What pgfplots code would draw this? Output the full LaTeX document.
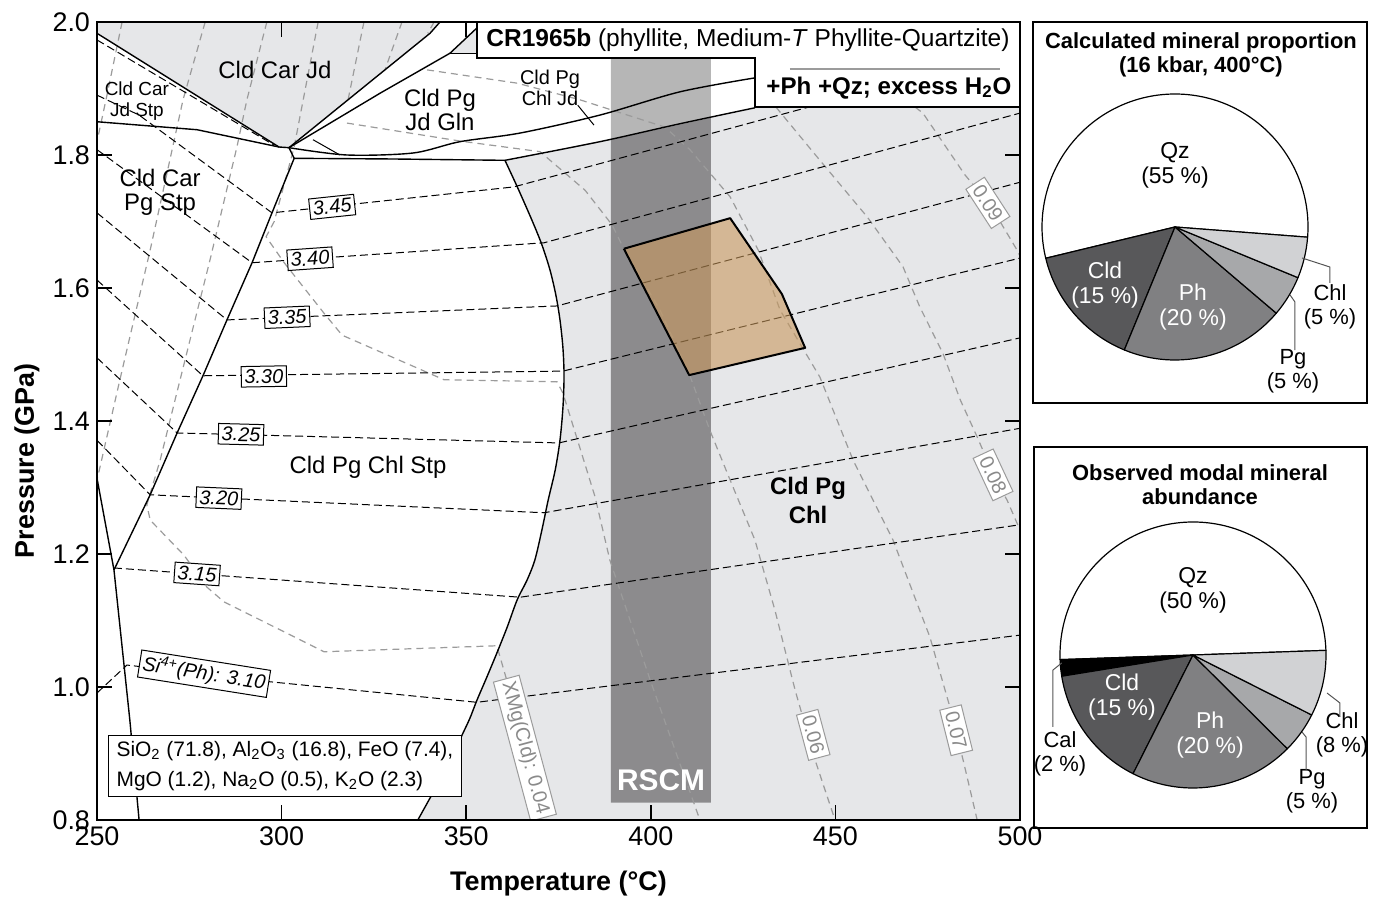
\documentclass[border=0pt]{standalone}
\usepackage{fontspec}
\setmainfont{Liberation Sans}
\usepackage{pgfplots}
\pgfplotsset{compat=1.18}
\definecolor{fieldgray}{HTML}{E6E7E9}
\definecolor{banddark}{HTML}{8C8B8D}
\definecolor{bandlight}{HTML}{B6B6B6}
\definecolor{tanfill}{RGB}{200,152,93}
\definecolor{isogray}{HTML}{9B9B9B}
\definecolor{isotext}{HTML}{8A8A8A}
\definecolor{cldc}{HTML}{58585A}
\definecolor{phc}{HTML}{808082}
\definecolor{pgc}{HTML}{A7A8AA}
\definecolor{chlc}{HTML}{D1D2D4}
\definecolor{leader}{HTML}{555555}
\newcommand\piedraw[2]{%
  \gdef\pcur{#1}%
  \foreach \v/\c in {#2}{%
    \pgfmathsetmacro\pnext{\pcur+3.6*\v}%
    \filldraw[fill=\c,draw=black,line width=0.6bp,line join=round] (axis cs:0,0) -- ++(\pcur:66.5bp) arc[start angle=\pcur,end angle=\pnext,radius=66.5bp] -- cycle;
    \global\let\pcur\pnext
  }%
}
\pgfplotsset{
  xmg/.style={isogray, line width=0.6bp, dash pattern=on 3.5bp off 2.5bp},
  si/.style={black, line width=0.5bp, dash pattern=on 4bp off 2bp},
  bd/.style={black, line width=0.7bp, line join=round},
}
\tikzset{
  silab/.style={draw=black, fill=white, line width=0.5bp, inner sep=1.6bp, font=\itshape\fontsize{10}{12}\selectfont},
  xlab/.style={draw=isogray, fill=white, text=isotext, line width=0.5bp, inner sep=2bp, font=\fontsize{10}{12}\selectfont},
}
\begin{document}
\begin{tikzpicture}
\useasboundingbox (-48.5bp,-38.5bp) rectangle (642bp,410bp);
\begin{axis}[
  name=main, at={(0,0)}, anchor=south west,
  scale only axis, width=461.5bp, height=399bp,
  xmin=250, xmax=500, ymin=0.8, ymax=2.0,
  xtick={250,300,350,400,450,500}, ytick={0.8,1.0,1.2,1.4,1.6,1.8,2.0},
  yticklabel style={/pgf/number format/.cd,fixed,fixed zerofill,precision=1},
  xtick pos=left, ytick pos=both, tick align=inside,
  major tick length=7.5bp,
  every tick/.style={black,line width=0.75bp},
  axis line style={line width=1bp},
  axis on top,
  /pgf/number format/assume math mode=true,
  tick label style={font=\fontsize{13.5}{16}\selectfont},
  label style={font=\fontsize{13.5}{16}\selectfont},
  xlabel={\textbf{Temperature (°C)}}, ylabel={\textbf{Pressure (GPa)}},
  xlabel style={at={(axis description cs:0.5,-0.08)},anchor=center},
  ylabel style={at={(axis description cs:-0.076,0.45)},anchor=center},
  no markers,
]
% ---- fields
\addplot[fill=fieldgray,draw=none] coordinates {(250,2.0)(250,1.983)(299.3,1.812)(302,1.811)(340.2,1.983)(342.9,2.0)};
\addplot[fill=fieldgray,draw=none] coordinates {(345.6,1.953)(352.9,1.991)(352.9,1.953)};
\addplot[fill=fieldgray,draw=none] coordinates {(360.5,1.792)(386.2,1.820)(407.9,1.847)(428.2,1.871)(500,1.898)(500,0.8)(336.9,0.8)(339.9,0.830)(342.9,0.860)(345.9,0.893)(348.9,0.928)(351.0,0.953)(352.9,0.980)(355.6,1.015)(358.3,1.051)(361.1,1.090)(363.8,1.131)(366.5,1.161)(368.6,1.191)(370.5,1.236)(372.2,1.281)(374.1,1.326)(375.4,1.371)(376.2,1.420)(376.5,1.468)(376.2,1.510)(375.4,1.552)(374.3,1.589)(372.7,1.627)(370.5,1.665)(367.8,1.702)(364.0,1.750)(360.5,1.792)};
% ---- RSCM band
\addplot[fill=bandlight,draw=none] coordinates {(389.2,1.946)(416.3,1.946)(416.3,1.856)(389.2,1.823)};
\addplot[fill=banddark,draw=none] coordinates {(389.2,1.823)(416.3,1.856)(416.3,0.826)(389.2,0.826)};
% ---- XMg(Cld) isopleths
\addplot[xmg] coordinates {(256.8,2.0)(252.7,1.890)(250,1.82)};
\addplot[xmg] coordinates {(279.3,2.0)(273.3,1.883)(264.4,1.657)(256.2,1.462)(250,1.311)};
\addplot[xmg] coordinates {(296.0,2.0)(290.6,1.883)(287.9,1.812)(280.6,1.642)(272.5,1.462)(267.1,1.341)(263.5,1.274)(264.4,1.251)(273.6,1.198)(279.8,1.150)(284.4,1.128)(311.5,1.053)(358.3,1.062)(371.9,0.800)};
\addplot[xmg] coordinates {(309.9,2.0)(303.4,1.812)(298.0,1.700)(295.8,1.677)(300.7,1.638)(311.5,1.562)(316.4,1.529)(344.0,1.462)(374.6,1.459)(376.2,1.442)(384.9,1.286)(388.9,1.191)(399.8,1.011)(413.3,0.800)};
\addplot[xmg] coordinates {(322.3,2.0)(318.0,1.883)};
\addplot[xmg] coordinates {(332.6,2.0)(328.0,1.928)};
\addplot[xmg] coordinates {(341.3,2.0)(339.6,1.983)};
\addplot[xmg] coordinates {(317.7,1.848)(348.3,1.821)(370.0,1.805)(382.2,1.747)(389.5,1.695)(392.7,1.659)(402.5,1.567)(410.6,1.468)(416.0,1.386)(421.5,1.311)(428.2,1.221)(433.6,1.116)(439.1,0.995)(444.5,0.890)(449.9,0.800)};
\addplot[xmg] coordinates {(339.4,1.928)(363.8,1.908)(380.8,1.883)(403.8,1.842)(410.6,1.808)(421.5,1.737)(429.1,1.657)(435.0,1.567)(445.8,1.466)(454.8,1.341)(465.6,1.221)(475.6,1.075)(481.0,0.970)(484.6,0.890)(488.4,0.800)};
\addplot[xmg] coordinates {(433.9,1.872)(445.8,1.792)(458.6,1.707)(468.3,1.632)(472.9,1.571)(479.1,1.502)(483.8,1.432)(488.4,1.376)(493.2,1.314)(496.5,1.281)(500,1.236)};
\addplot[xmg] coordinates {(471.6,1.872)(473.7,1.863)(485.1,1.770)(491.9,1.725)(499.2,1.657)(500,1.648)};
% ---- Si(Ph) isopleths
\addplot[si] coordinates {(250,1.973)(297.9,1.815)};
\addplot[bd, line width=0.5bp] coordinates {(308.5,1.823)(315.8,1.800)};
\addplot[si] coordinates {(250,1.890)(261.4,1.860)(297.4,1.713)(362.9,1.752)(500,1.958)};
\addplot[si] coordinates {(250,1.808)(292.0,1.638)(371.1,1.668)(500,1.863)};
\addplot[si] coordinates {(250,1.713)(285.2,1.552)(374.6,1.573)(500,1.759)};
\addplot[si] coordinates {(250,1.612)(278.7,1.468)(376.2,1.475)(500,1.645)};
\addplot[si] coordinates {(250,1.495)(271.7,1.382)(375.1,1.367)(500,1.525)};
\addplot[si] coordinates {(250,1.371)(264.4,1.289)(371.1,1.262)(500,1.389)};
\addplot[si] coordinates {(254.6,1.179)(364.6,1.135)(500,1.244)};
\addplot[si] coordinates {(250,0.991)(258.1,1.033)(296.6,1.008)(352.9,0.977)(500,1.078)};
% ---- phase boundaries
\addplot[bd] coordinates {(250,1.983)(299.3,1.812)(302,1.811)};
\addplot[bd] coordinates {(302,1.811)(340.2,1.983)(342.9,2.0)};
\addplot[bd] coordinates {(302,1.811)(326.7,1.893)(345.6,1.953)(352.9,1.991)};
\addplot[bd, line width=0.4bp] coordinates {(345.6,1.953)(352.9,1.953)};
\addplot[bd] coordinates {(250,1.850)(277.1,1.838)(299.3,1.812)};
\addplot[bd] coordinates {(302,1.811)(303.4,1.795)(297.4,1.713)(292.0,1.638)(285.2,1.552)(278.7,1.468)(271.7,1.382)(264.4,1.289)(254.6,1.176)};
\addplot[bd] coordinates {(254.6,1.176)(258.9,0.950)(261.4,0.8)};
\addplot[bd] coordinates {(250,1.314)(254.6,1.176)};
\addplot[bd,smooth] coordinates {(302,1.811)(317.7,1.800)(335.6,1.803)(348.3,1.820)(364.6,1.833)(386.2,1.860)(407.9,1.895)(428.2,1.916)};
\addplot[bd] coordinates {(303.4,1.795)(330,1.794)(360.5,1.792)};
\addplot[bd,smooth] coordinates {(360.5,1.792)(386.2,1.820)(407.9,1.847)(428.2,1.871)};
\addplot[bd,smooth] coordinates {(360.5,1.792)(364.0,1.750)(367.8,1.702)(370.5,1.665)(372.7,1.627)(374.3,1.589)(375.4,1.552)(376.2,1.510)(376.5,1.468)(376.2,1.420)(375.4,1.371)(374.1,1.326)(372.2,1.281)(370.5,1.236)(368.6,1.191)(366.5,1.161)(363.8,1.131)(361.1,1.090)(358.3,1.051)(355.6,1.015)(352.9,0.980)(351.0,0.953)(348.9,0.928)(345.9,0.893)(342.9,0.860)(339.9,0.830)(336.9,0.800)};
\addplot[bd, line width=0.5bp] coordinates {(380.2,1.875)(384.6,1.845)};
% ---- P-T box
\addplot[fill=tanfill, fill opacity=0.6, draw=black, line width=1bp, line join=round] coordinates {(392.7,1.659)(421.5,1.705)(435.5,1.591)(441.8,1.510)(410.4,1.469)(392.7,1.659)};
% ---- isopleth labels
\node[silab, rotate=6] at (axis cs:313.7,1.722) {3.45};
\node[silab, rotate=4] at (axis cs:307.7,1.644) {3.40};
\node[silab, rotate=2.5] at (axis cs:301.5,1.556) {3.35};
\node[silab, rotate=1] at (axis cs:295.2,1.467) {3.30};
\node[silab, rotate=-1.5] at (axis cs:289.0,1.380) {3.25};
\node[silab, rotate=-2.5] at (axis cs:283.0,1.284) {3.20};
\node[silab, rotate=-4] at (axis cs:277.1,1.170) {3.15};
\node[silab, rotate=-9] at (axis cs:279.0,1.020) {Si\textsuperscript{4+}(Ph): 3.10};
\node[xlab, rotate=-75] at (axis cs:365.9,0.908) {XMg(Cld): 0.04};
\node[xlab, rotate=-75] at (axis cs:444.0,0.928) {0.06};
\node[xlab, rotate=-76] at (axis cs:482.7,0.935) {0.07};
\node[xlab, rotate=-65] at (axis cs:492.7,1.319) {0.08};
\node[xlab, rotate=-57] at (axis cs:491.3,1.728) {0.09};
% ---- field labels
\node[font=\fontsize{12}{12}\selectfont] at (axis cs:298.2,1.928) {Cld Car Jd};
\node[font=\fontsize{9.5}{10.5}\selectfont, align=center] at (axis cs:260.8,1.881) {Cld Car\\Jd Stp};
\node[font=\fontsize{12}{12}\selectfont, align=center] at (axis cs:267.1,1.744) {Cld Car\\Pg Stp};
\node[font=\fontsize{12}{12}\selectfont, align=center] at (axis cs:342.9,1.868) {Cld Pg\\Jd Gln};
\node[font=\fontsize{10}{10.5}\selectfont, align=center] at (axis cs:372.7,1.901) {Cld Pg\\Chl Jd};
\node[font=\fontsize{12}{12}\selectfont] at (axis cs:323.4,1.331) {Cld Pg Chl Stp};
\node[font=\bfseries\fontsize{12}{14.5}\selectfont, align=center] at (axis cs:442.6,1.281) {Cld Pg\\Chl};
\node[font=\bfseries\fontsize{15}{15}\selectfont, text=white] at (axis cs:402.8,0.860) {RSCM};
\node[draw=black, fill=white, line width=0.6bp, align=left, inner xsep=4bp, inner ysep=3bp, font=\fontsize{10.5}{15}\selectfont] at (axis cs:300.9,0.881) {SiO\textsubscript{2} (71.8), Al\textsubscript{2}O\textsubscript{3} (16.8), FeO (7.4),\\MgO (1.2), Na\textsubscript{2}O (0.5), K\textsubscript{2}O (2.3)};
% ---- sample box
\addplot[fill=white, draw=black, line width=1bp, line join=miter] coordinates {(352.9,2.0)(500,2.0)(500,1.872)(428.2,1.872)(428.2,1.946)(352.9,1.946)(352.9,2.0)};
\addplot[color=isogray, line width=0.8bp] coordinates {(437.7,1.929)(494.6,1.929)};
\node[font=\fontsize{12.3}{14}\selectfont] at (axis cs:426.3,1.973) {\textbf{CR1965b} (phyllite, Medium-\textit{T} Phyllite-Quartzite)};
\node[font=\bfseries\fontsize{12.1}{14}\selectfont] at (axis cs:464.5,1.901) {+Ph +Qz; excess H\textsubscript{2}O};
\addplot[black, line width=0.75bp] coordinates {(300,2.0)(300,1.9775)};
\addplot[black, line width=0.75bp] coordinates {(350,2.0)(350,1.9775)};
\end{axis}
% ---- pie 1
\begin{axis}[at={(539bp,296.5bp)}, anchor=center, hide axis, scale only axis, width=133bp, height=133bp, xmin=-1, xmax=1, ymin=-1, ymax=1, clip=false]
\pgfplotsextra{\piedraw{-4.4}{55/white,15/cldc,20/phc,5/pgc,5/chlc}}
\draw[line width=0.75bp] (axis cs:-1.068,-1.323) rectangle (axis cs:1.444,1.541);
\node[font=\bfseries\fontsize{11}{12}\selectfont, align=center] at (axis cs:0.195,1.293) {Calculated mineral proportion\\(16 kbar, 400°C)};
\node[font=\fontsize{11.5}{12.5}\selectfont, align=center] at (axis cs:0,0.466) {Qz\\(55 \%)};
\node[font=\fontsize{11.5}{12.5}\selectfont, align=center, text=white] at (axis cs:-0.526,-0.436) {Cld\\(15 \%)};
\node[font=\fontsize{11.5}{12.5}\selectfont, align=center, text=white] at (axis cs:0.135,-0.602) {Ph\\(20 \%)};
\node[font=\fontsize{11}{12}\selectfont, align=center] at (axis cs:1.165,-0.602) {Chl\\(5 \%)};
\node[font=\fontsize{11}{12}\selectfont, align=center] at (axis cs:0.887,-1.083) {Pg\\(5 \%)};
\draw[leader, line width=0.5bp] (axis cs:0.955,-0.233) -- (axis cs:1.165,-0.301) -- (axis cs:1.165,-0.421);
\draw[leader, line width=0.5bp] (axis cs:0.865,-0.511) -- (axis cs:0.902,-0.564) -- (axis cs:0.902,-0.925);
\end{axis}
% ---- pie 2
\begin{axis}[at={(548bp,82.5bp)}, anchor=center, hide axis, scale only axis, width=133bp, height=133bp, xmin=-1, xmax=1, ymin=-1, ymax=1, clip=false]
\pgfplotsextra{\piedraw{2}{50/white,2/black,15/cldc,20/phc,5/pgc,8/chlc}}
\draw[line width=0.75bp] (axis cs:-1.195,-1.301) rectangle (axis cs:1.308,1.564);
\node[font=\bfseries\fontsize{11}{12}\selectfont, align=center] at (axis cs:0.053,1.278) {Observed modal mineral\\abundance};
\node[font=\fontsize{11.5}{12.5}\selectfont, align=center] at (axis cs:0,0.489) {Qz\\(50 \%)};
\node[font=\fontsize{11.5}{12.5}\selectfont, align=center, text=white] at (axis cs:-0.534,-0.316) {Cld\\(15 \%)};
\node[font=\fontsize{11.5}{12.5}\selectfont, align=center, text=white] at (axis cs:0.128,-0.602) {Ph\\(20 \%)};
\node[font=\fontsize{11}{12}\selectfont, align=center] at (axis cs:1.120,-0.602) {Chl\\(8 \%)};
\node[font=\fontsize{11}{12}\selectfont, align=center] at (axis cs:0.895,-1.023) {Pg\\(5 \%)};
\node[font=\fontsize{11}{12}\selectfont, align=center] at (axis cs:-1.0,-0.744) {Cal\\(2 \%)};
\draw[leader, line width=0.5bp] (axis cs:1.008,-0.286) -- (axis cs:1.105,-0.361) -- (axis cs:1.105,-0.466);
\draw[leader, line width=0.5bp] (axis cs:0.820,-0.579) -- (axis cs:0.850,-0.617) -- (axis cs:0.850,-0.865);
\draw[leader, line width=0.5bp] (axis cs:-0.987,-0.060) -- (axis cs:-1.053,-0.113) -- (axis cs:-1.053,-0.541);
\end{axis}
\end{tikzpicture}
\end{document}
